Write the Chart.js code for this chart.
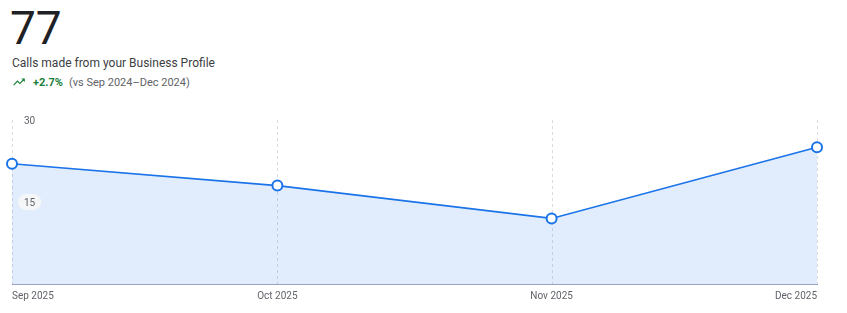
<!DOCTYPE html>
<html>
<head>
<meta charset="utf-8">
<script src="https://cdn.jsdelivr.net/npm/chart.js@4"></script>
<style>
  html, body { margin: 0; padding: 0; background: #fff; }
  body { width: 847px; height: 313px; position: relative; overflow: hidden; font-family: Roboto, Arial, sans-serif; }
  .total { position: absolute; left: 10px; top: 1px; font-size: 46px; color: #202124; }
  .title { position: absolute; left: 12px; top: 56px; font-size: 12px; color: #3c4043; }
  .trend { position: absolute; left: 12px; top: 75px; font-size: 11px; color: #5f6368; display: flex; align-items: center; }
  .trend svg { width: 14px; height: 14px; margin-right: 7px; }
  .trend .pct { color: #188038; font-weight: bold; margin-right: 6px; }
  .chart-box { position: absolute; left: 0; top: 100px; width: 847px; height: 213px; }
</style>
</head>
<body>
<div class="total" id="total"></div>
<div class="title">Calls made from your Business Profile</div>
<div class="trend">
  <svg viewBox="0 0 24 24"><path fill="#188038" d="M16 6l2.29 2.29-4.88 4.88-4-4L2 16.59 3.41 18l6-6 4 4 6.3-6.29L22 12V6z"/></svg>
  <span class="pct">+2.7%</span><span>(vs Sep 2024–Dec 2024)</span>
</div>
<div class="chart-box"><canvas id="calls-chart"></canvas></div>
<script>
// months shown, as days from 1 Sep 2025 (the axis is spaced by date)
const monthLabels = ['Sep 2025', 'Oct 2025', 'Nov 2025', 'Dec 2025'];
const monthDays = [0, 30, 61, 91];
const calls = [22, 18, 12, 25];
const yTicks = [15, 30];

document.getElementById('total').textContent = calls.reduce((a, b) => a + b, 0);

const blue = '#1a73e8';

const ctx = document.getElementById('calls-chart').getContext('2d');
const myChart = new Chart(ctx, {
    type: 'line',
    data: {
        datasets: [{
            data: monthDays.map((d, i) => ({ x: d, y: calls[i] })),
            borderColor: blue,
            borderWidth: 1.6,
            backgroundColor: 'rgba(26,115,232,0.13)',
            fill: 'origin',
            tension: 0,
            pointRadius: 5,
            pointBorderWidth: 2,
            pointBackgroundColor: '#fff',
            pointBorderColor: blue,
            clip: false
        }]
    },
    options: {
        responsive: true,
        maintainAspectRatio: false,
        animation: false,
        layout: { padding: { left: 12, right: 30, top: 20, bottom: 5 } },
        plugins: { legend: { display: false }, tooltip: { enabled: false } },
        scales: {
            x: {
                type: 'linear',
                min: monthDays[0],
                max: monthDays[monthDays.length - 1],
                afterBuildTicks: axis => { axis.ticks = monthDays.map(v => ({ value: v })); },
                ticks: {
                    align: 'inner',
                    maxRotation: 0,
                    padding: 6,
                    color: '#5f6368',
                    font: { family: 'Roboto', size: 10 },
                    callback: v => monthLabels[monthDays.indexOf(v)]
                },
                grid: { display: false, drawTicks: false },
                border: { display: true, color: '#9aa3bd' }
            },
            y: {
                display: false,
                min: 0,
                max: 30
            }
        }
    },
    plugins: [{
        // dashed vertical grid lines
        id: 'dashGrid',
        beforeDatasetsDraw(chart) {
            const { ctx, chartArea, scales } = chart;
            ctx.save();
            ctx.strokeStyle = '#dadce0';
            ctx.lineWidth = 1;
            ctx.setLineDash([3, 3]);
            monthDays.forEach(d => {
                const x = Math.round(scales.x.getPixelForValue(d)) + 0.5;
                ctx.beginPath();
                ctx.moveTo(x, chartArea.top);
                ctx.lineTo(x, chartArea.bottom);
                ctx.stroke();
            });
            ctx.restore();
        }
    }, {
        // y labels sit inside the plot, 15 on a rounded pill
        id: 'yLabels',
        afterDraw(chart) {
            const { ctx, chartArea, scales } = chart;
            ctx.save();
            ctx.font = '10px Roboto';
            ctx.textBaseline = 'middle';
            ctx.textAlign = 'left';
            yTicks.forEach(v => {
                const y = scales.y.getPixelForValue(v);
                const x = chartArea.left + 12;
                const text = String(v);
                const w = ctx.measureText(text).width;
                if (v !== 30) {
                    ctx.fillStyle = '#f5f6f8';
                    ctx.beginPath();
                    ctx.roundRect(x - 6, y - 8, w + 12, 16, 8);
                    ctx.fill();
                }
                ctx.fillStyle = '#5f6368';
                ctx.fillText(text, x, y + 1);
            });
            ctx.restore();
        }
    }]
});
</script>
</body>
</html>
